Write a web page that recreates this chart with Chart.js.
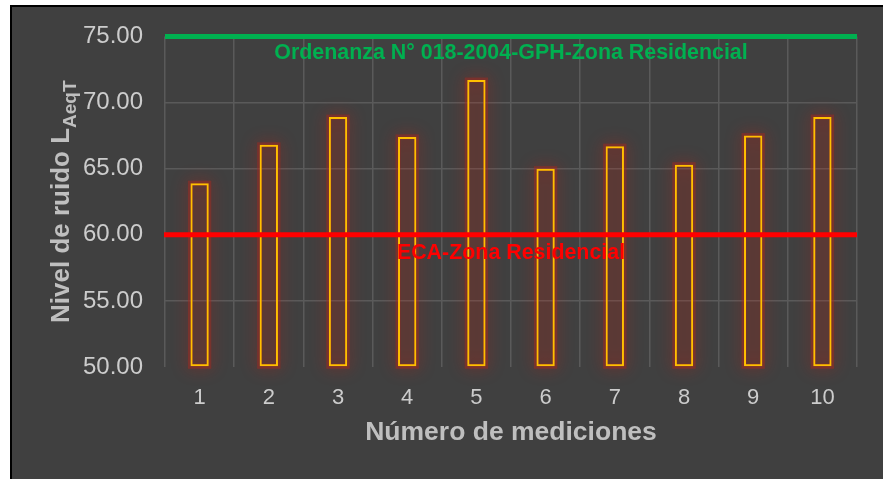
<!DOCTYPE html>
<html>
<head>
<meta charset="utf-8">
<script src="https://cdn.jsdelivr.net/npm/chart.js@4.4.1/dist/chart.umd.min.js"></script>
<style>
  html, body { margin: 0; padding: 0; background: #fff; }
  #wrap { width: 883px; height: 479px; }
</style>
</head>
<body>
<div id="wrap"><canvas id="ruidoChart" width="883" height="479"></canvas></div>
<script>
// datos
const mediciones = ['1', '2', '3', '4', '5', '6', '7', '8', '9', '10'];
const nivelRuido = [63.9, 66.8, 68.9, 67.4, 71.7, 65.0, 66.7, 65.3, 67.5, 68.9];
const limiteOrdenanza = 75;
const limiteECA = 60;
const textoOrdenanza = 'Ordenanza N° 018-2004-GPH-Zona Residencial';
const textoECA = 'ECA-Zona Residencial';
const ejeYMin = 50, ejeYMax = 75, ejeYPaso = 5;

const FONT = '"Liberation Sans", Arial, sans-serif';

// fondo oscuro con borde
const fondo = {
    id: 'fondo',
    beforeDraw(chart) {
        const c = chart.ctx;
        c.save();
        c.fillStyle = '#ffffff';
        c.fillRect(0, 0, chart.width, chart.height);
        c.fillStyle = '#404040';
        c.fillRect(11, 6, chart.width - 11, chart.height - 6);
        c.strokeStyle = '#000000';
        c.lineWidth = 2;
        c.beginPath();
        c.moveTo(11, chart.height);
        c.lineTo(11, 6);
        c.lineTo(chart.width, 6);
        c.stroke();
        c.restore();
    }
};

// brillo rojo alrededor de las barras (usa las posiciones calculadas por Chart.js)
const brillo = {
    id: 'brillo',
    beforeDatasetDraw(chart, args) {
        const c = chart.ctx;
        c.save();
        c.shadowColor = 'rgba(230, 20, 0, 0.85)';
        c.shadowBlur = 16;
        c.strokeStyle = 'rgba(170, 40, 30, 0.45)';
        c.lineWidth = 5;
        args.meta.data.forEach((bar) => {
            const p = bar.getProps(['x', 'y', 'base', 'width'], true);
            c.strokeRect(p.x - p.width / 2, p.y, p.width, p.base - p.y);
        });
        c.restore();
    }
};

// líneas de límite y textos
const limites = {
    id: 'limites',
    afterDatasetsDraw(chart) {
        const c = chart.ctx;
        const a = chart.chartArea;
        const y = chart.scales.y;
        const yOrd = y.getPixelForValue(limiteOrdenanza);
        const yEca = y.getPixelForValue(limiteECA);
        c.save();
        c.lineWidth = 5;
        c.strokeStyle = '#00B050';
        c.beginPath();
        c.moveTo(a.left, yOrd);
        c.lineTo(a.right, yOrd);
        c.stroke();
        c.strokeStyle = '#FF0000';
        c.beginPath();
        c.moveTo(a.left - 1, yEca);
        c.lineTo(a.right, yEca);
        c.stroke();

        const cx = (a.left + a.right) / 2;
        c.textAlign = 'center';
        c.textBaseline = 'middle';
        c.font = 'bold 21.4px ' + FONT;
        c.fillStyle = '#00B050';
        c.fillText(textoOrdenanza, cx, yOrd + 17);
        c.fillStyle = '#FF0000';
        c.fillText(textoECA, cx, yEca + 18);
        c.restore();
    }
};

// títulos de los ejes (con subíndice en el eje Y)
const titulos = {
    id: 'titulos',
    afterDraw(chart) {
        const c = chart.ctx;
        const a = chart.chartArea;
        c.save();
        c.fillStyle = '#BFBFBF';
        c.textBaseline = 'middle';
        c.textAlign = 'center';
        c.font = 'bold 26.5px ' + FONT;
        c.fillText('Número de mediciones', (a.left + a.right) / 2, 433);

        c.translate(62, (a.top + a.bottom) / 2);
        c.rotate(-Math.PI / 2);
        const principal = 'Nivel de ruido L';
        const sub = 'AeqT';
        c.font = 'bold 26px ' + FONT;
        const w1 = c.measureText(principal).width;
        c.font = 'bold 19px ' + FONT;
        const w2 = c.measureText(sub).width;
        const x0 = -(w1 + w2) / 2;
        c.textAlign = 'left';
        c.font = 'bold 26px ' + FONT;
        c.fillText(principal, x0, 0);
        c.font = 'bold 19px ' + FONT;
        c.fillText(sub, x0 + w1, 9);
        c.restore();
    }
};

const ctx = document.getElementById('ruidoChart').getContext('2d');
new Chart(ctx, {
    type: 'bar',
    data: {
        labels: mediciones,
        datasets: [{
            data: nivelRuido,
            base: ejeYMin,
            backgroundColor: 'rgba(255, 40, 0, 0.06)',
            borderColor: '#FFC000',
            borderWidth: 2,
            borderSkipped: false,
            categoryPercentage: 1,
            barPercentage: 0.265
        }]
    },
    options: {
        responsive: false,
        animation: false,
        devicePixelRatio: 1,
        layout: { padding: { left: 0, right: 26, top: 36, bottom: 0 } },
        plugins: {
            legend: { display: false },
            tooltip: { enabled: false }
        },
        scales: {
            x: {
                grid: {
                    color: '#5A5A5A',
                    lineWidth: 1.5,
                    offset: true,
                    drawTicks: false
                },
                border: { display: false },
                ticks: {
                    color: '#CCCCCC',
                    font: { family: FONT, size: 22 },
                    padding: 18
                },
                afterFit(scale) { scale.height = 479 - 367; }
            },
            y: {
                min: ejeYMin,
                max: ejeYMax,
                grid: {
                    color: (c) => c.tick && c.tick.value === ejeYMin ? 'rgba(0,0,0,0)' : '#5A5A5A',
                    lineWidth: 1.5,
                    drawTicks: false
                },
                border: { display: false },
                ticks: {
                    stepSize: ejeYPaso,
                    color: '#CCCCCC',
                    font: { family: FONT, size: 24 },
                    padding: 22,
                    callback: (v) => v.toFixed(2)
                },
                afterFit(scale) { scale.width = 165; }
            }
        }
    },
    plugins: [fondo, brillo, limites, titulos]
});
</script>
</body>
</html>
